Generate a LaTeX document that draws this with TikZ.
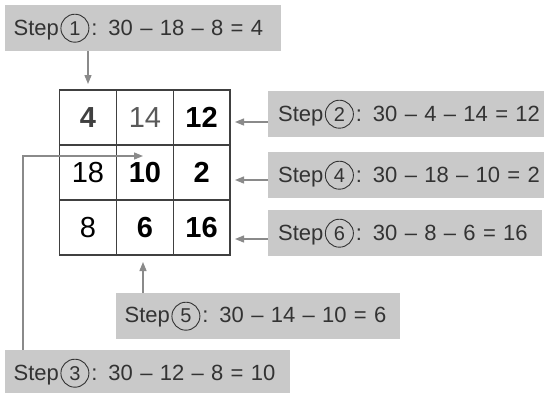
\documentclass[tikz,border=0pt]{standalone}
\usepackage{fontspec}
\setmainfont{Liberation Sans}
\usetikzlibrary{arrows.meta,calc}
\definecolor{boxgrey}{HTML}{C9C9C9}
\definecolor{txtgrey}{HTML}{333333}
\definecolor{arrgrey}{HTML}{8A8A8A}
\tikzset{stepbox/.style={fill=boxgrey, anchor=north west, inner xsep=8pt,
    minimum height=46pt, text=txtgrey, font=\fontsize{22}{24}\selectfont},
  cellnum/.style={font=\fontsize{29}{32}\selectfont, text=black},
  steparrow/.style={draw=arrgrey, line width=1.3pt, -{Triangle[length=9pt,width=7pt]}}}
\newcommand{\circnum}[1]{\kern1.5pt\tikz[baseline=(cn.base), x=1cm, y=1cm]\node[circle,
  draw=txtgrey, fill=none, anchor=center, text width={}, minimum width=0pt,
  minimum height=0pt, minimum size=28pt, line width=0.9pt, inner sep=0pt,
  font=\fontsize{20}{22}\selectfont, text=txtgrey] (cn) {#1};\kern2pt}

\begin{document}
\begin{tikzpicture}[x=1pt,y=-1pt]
  \useasboundingbox (0,0) rectangle (544,392);
  % the magic square
  \draw[draw=black!75, line width=1.4pt] (59.5,90) rectangle (230,255);
  \draw[draw=black!75, line width=1.1pt] (116.7,90) -- (116.7,255)
    (173.3,90) -- (173.3,255) (59.5,145) -- (230,145) (59.5,200) -- (230,200);
  \node[cellnum, font=\fontsize{29}{32}\bfseries, text=black!75] (c11) at (88,117.5) {4};
  \node[cellnum, text=black!65] (c12) at (145,117.5) {14};
  \node[cellnum, font=\fontsize{29}{32}\bfseries] (c13) at (201.6,117.5) {12};
  \node[cellnum] (c21) at (88,172.5) {18};
  \node[cellnum, font=\fontsize{29}{32}\bfseries] (c22) at (145,172.5) {10};
  \node[cellnum, font=\fontsize{29}{32}\bfseries] (c23) at (201.6,172.5) {2};
  \node[cellnum] (c31) at (88,227.5) {8};
  \node[cellnum, font=\fontsize{29}{32}\bfseries] (c32) at (145,227.5) {6};
  \node[cellnum, font=\fontsize{29}{32}\bfseries] (c33) at (201.6,227.5) {16};
  \coordinate (g13) at (230,122);
  \coordinate (g23) at (230,180);
  \coordinate (g33) at (230,239);
  \coordinate (g11) at (88,90);
  \coordinate (g32) at (143,255);
  \coordinate (t3) at (143,156);

  % steps
  \node[stepbox, minimum width=276pt, text width=259pt] (s1) at (5,5)
    {Step\circnum{1}: 30 -- 18 -- 8 = 4};
  \node[stepbox, inner xsep=10pt, text width=300pt] (s2) at (268,91)
    {Step\circnum{2}: 30 -- 4 -- 14 = 12};
  \node[stepbox, inner xsep=10pt, text width=300pt] (s4) at (268,152)
    {Step\circnum{4}: 30 -- 18 -- 10 = 2};
  \node[stepbox, inner xsep=10pt, minimum width=274pt, text width=254pt] (s6) at (268,210)
    {Step\circnum{6}: 30 -- 8 -- 6 = 16};
  \node[stepbox, minimum width=284pt, text width=267pt] (s5) at (116,293)
    {Step\circnum{5}: 30 -- 14 -- 10 = 6};
  \node[stepbox, minimum width=285pt, text width=268pt] (s3) at (5,350)
    {Step\circnum{3}: 30 -- 12 -- 8 = 10};

  \draw[steparrow, shorten >=6pt] (s1.south -| g11) -- (g11);
  \draw[steparrow, shorten >=5pt] (s2.west |- g13) -- (g13);
  \draw[steparrow, shorten >=5pt] (s4.west |- g23) -- (g23);
  \draw[steparrow, shorten >=5pt] (s6.west |- g33) -- (g33);
  \draw[steparrow, shorten >=7pt] (s5.north -| g32) -- (g32);
  \draw[steparrow] ($(s3.north west)+(18,0)$) |- (t3);
\end{tikzpicture}
\end{document}
